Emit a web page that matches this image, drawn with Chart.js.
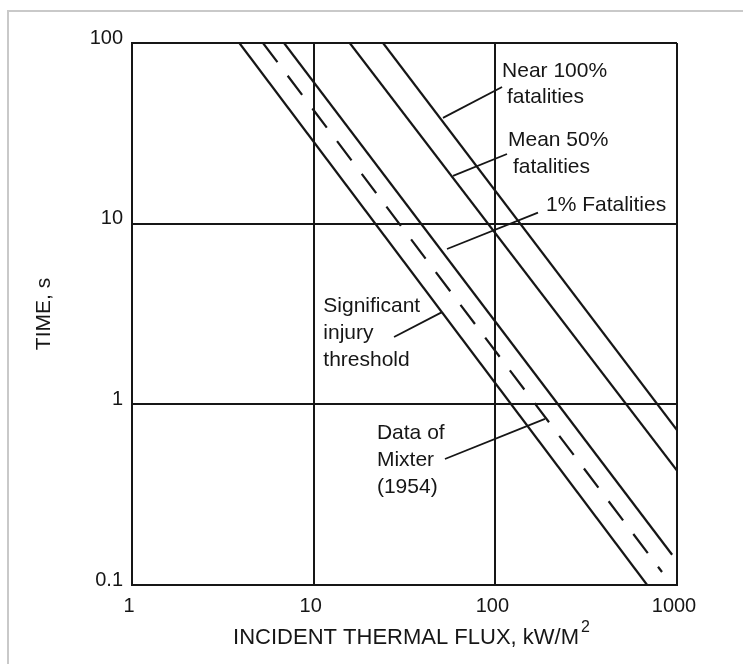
<!DOCTYPE html>
<html>
<head>
<meta charset="utf-8">
<script src="https://cdn.jsdelivr.net/npm/chart.js@4.4.1/dist/chart.umd.min.js"></script>
<style>
  body { margin: 0; background: #fff; }
  #wrap { width: 743px; height: 664px; }
</style>
</head>
<body>
<div id="wrap"><canvas id="chart" width="743" height="664"></canvas></div>
<script>
const xTicks = [1, 10, 100, 1000];
const yTicks = [0.1, 1, 10, 100];

// end points of each band line (flux kW/m2 -> time s)
const injuryFlux = [3.9, 685];
const injuryTime = [100, 0.1];
const mixterFlux = [5.26, 827];
const mixterTime = [100, 0.118];
const onePctFlux = [6.87, 940];
const onePctTime = [100, 0.147];
const meanFlux = [15.8, 1000];
const meanTime = [100, 0.43];
const nearFlux = [24.1, 1000];
const nearTime = [100, 0.72];

// leader lines from the labels to the curves
const leaderFlux = [
    [108.9, 51.5],
    [115.9, 58.5],
    [171.7, 54.2],
    [27.7, 50.9],
    [52.8, 187.6],
];
const leaderTime = [
    [57.1, 38.5],
    [24.3, 18.4],
    [11.5, 7.24],
    [2.36, 3.24],
    [0.498, 0.83],
];

// label text, anchored at its left / middle in data units
const labelText = ["Near 100%", "fatalities", "Mean 50%", "fatalities", "1% Fatalities",
    "Significant", "injury", "threshold", "Data of", "Mixter", "(1954)"];
const labelFlux = [108.9, 115.9, 117.4, 125, 190, 11.3, 11.3, 11.3, 22.3, 22.3, 22.3];
const labelTime = [70, 50.2, 29.0, 20.6, 12.7, 3.5, 2.48, 1.76, 0.693, 0.492, 0.349];

const fontfamily = "'Liberation Sans', Arial, Helvetica, sans-serif";
const ink = "#161616";

const topoints = (xs, ys) => xs.map((x, i) => ({ x: x, y: ys[i] }));

const curve = (xs, ys, dash) => ({
    data: topoints(xs, ys),
    borderColor: ink,
    borderWidth: 2.2,
    borderDash: dash || [],
    pointRadius: 0,
    fill: false,
});

const datasets = [
    curve(injuryFlux, injuryTime),
    curve(mixterFlux, mixterTime, [24, 17]),
    curve(onePctFlux, onePctTime),
    curve(meanFlux, meanTime),
    curve(nearFlux, nearTime),
];

leaderFlux.forEach((xs, i) => {
    datasets.push({
        data: topoints(xs, leaderTime[i]),
        borderColor: ink,
        borderWidth: 1.8,
        pointRadius: 0,
        fill: false,
    });
});

const frameplugin = {
    id: "frame",
    beforeDraw(chart) {
        const c = chart.ctx;
        c.save();
        c.fillStyle = "#fff";
        c.fillRect(0, 0, chart.width, chart.height);
        c.strokeStyle = "#c9c9c9";
        c.lineWidth = 2;
        c.strokeRect(8, 11, chart.width + 20, chart.height + 20);
        c.restore();
    },
};

const labelplugin = {
    id: "labels",
    afterDatasetsDraw(chart) {
        const c = chart.ctx;
        const xs = chart.scales.x;
        const ys = chart.scales.y;
        c.save();
        c.fillStyle = ink;
        c.font = "21px " + fontfamily;
        c.textAlign = "left";
        c.textBaseline = "middle";
        labelText.forEach((t, i) => {
            c.fillText(t, xs.getPixelForValue(labelFlux[i]), ys.getPixelForValue(labelTime[i]));
        });

        // x axis title with a real superscript
        const area = chart.chartArea;
        const main = "INCIDENT THERMAL FLUX, kW/M";
        c.font = "22px " + fontfamily;
        const mw = c.measureText(main).width;
        c.font = "16px " + fontfamily;
        const sw = c.measureText("2").width;
        const cx = (area.left + area.right) / 2 + 7;
        const cy = area.bottom + 53;
        const x0 = cx - (mw + sw + 2) / 2;
        c.font = "22px " + fontfamily;
        c.fillText(main, x0, cy);
        c.font = "16px " + fontfamily;
        c.fillText("2", x0 + mw + 2, cy - 10);
        c.restore();
    },
};

new Chart(document.getElementById("chart"), {
    type: "line",
    data: { datasets: datasets },
    options: {
        responsive: false,
        animation: false,
        layout: { padding: { top: 43, right: 66, left: 0, bottom: 0 } },
        plugins: {
            legend: { display: false },
            tooltip: { enabled: false },
        },
        scales: {
            x: {
                type: "logarithmic",
                min: 1,
                max: 1000,
                afterBuildTicks: (s) => { s.ticks = xTicks.map((v) => ({ value: v })); },
                afterFit: (s) => { s.height = 79; },
                ticks: {
                    autoSkip: false,
                    maxRotation: 0,
                    padding: 9,
                    labelOffset: -3,
                    color: ink,
                    font: { size: 20, family: fontfamily },
                    callback: (v) => String(v),
                },
                grid: { color: ink, lineWidth: 2, drawTicks: false },
                border: { display: true, color: ink, width: 2 },
            },
            y: {
                type: "logarithmic",
                min: 0.1,
                max: 100,
                afterBuildTicks: (s) => { s.ticks = yTicks.map((v) => ({ value: v })); },
                afterFit: (s) => { s.width = 132; },
                ticks: {
                    autoSkip: false,
                    padding: 9,
                    labelOffset: -5,
                    color: ink,
                    font: { size: 20, family: fontfamily },
                    callback: (v) => String(v),
                },
                grid: { color: ink, lineWidth: 2, drawTicks: false },
                border: { display: true, color: ink, width: 2 },
                title: {
                    display: true,
                    text: "TIME, s",
                    color: ink,
                    font: { size: 21, family: fontfamily },
                    padding: { top: 32, bottom: 0 },
                },
            },
        },
    },
    plugins: [frameplugin, labelplugin],
});
</script>
</body>
</html>
